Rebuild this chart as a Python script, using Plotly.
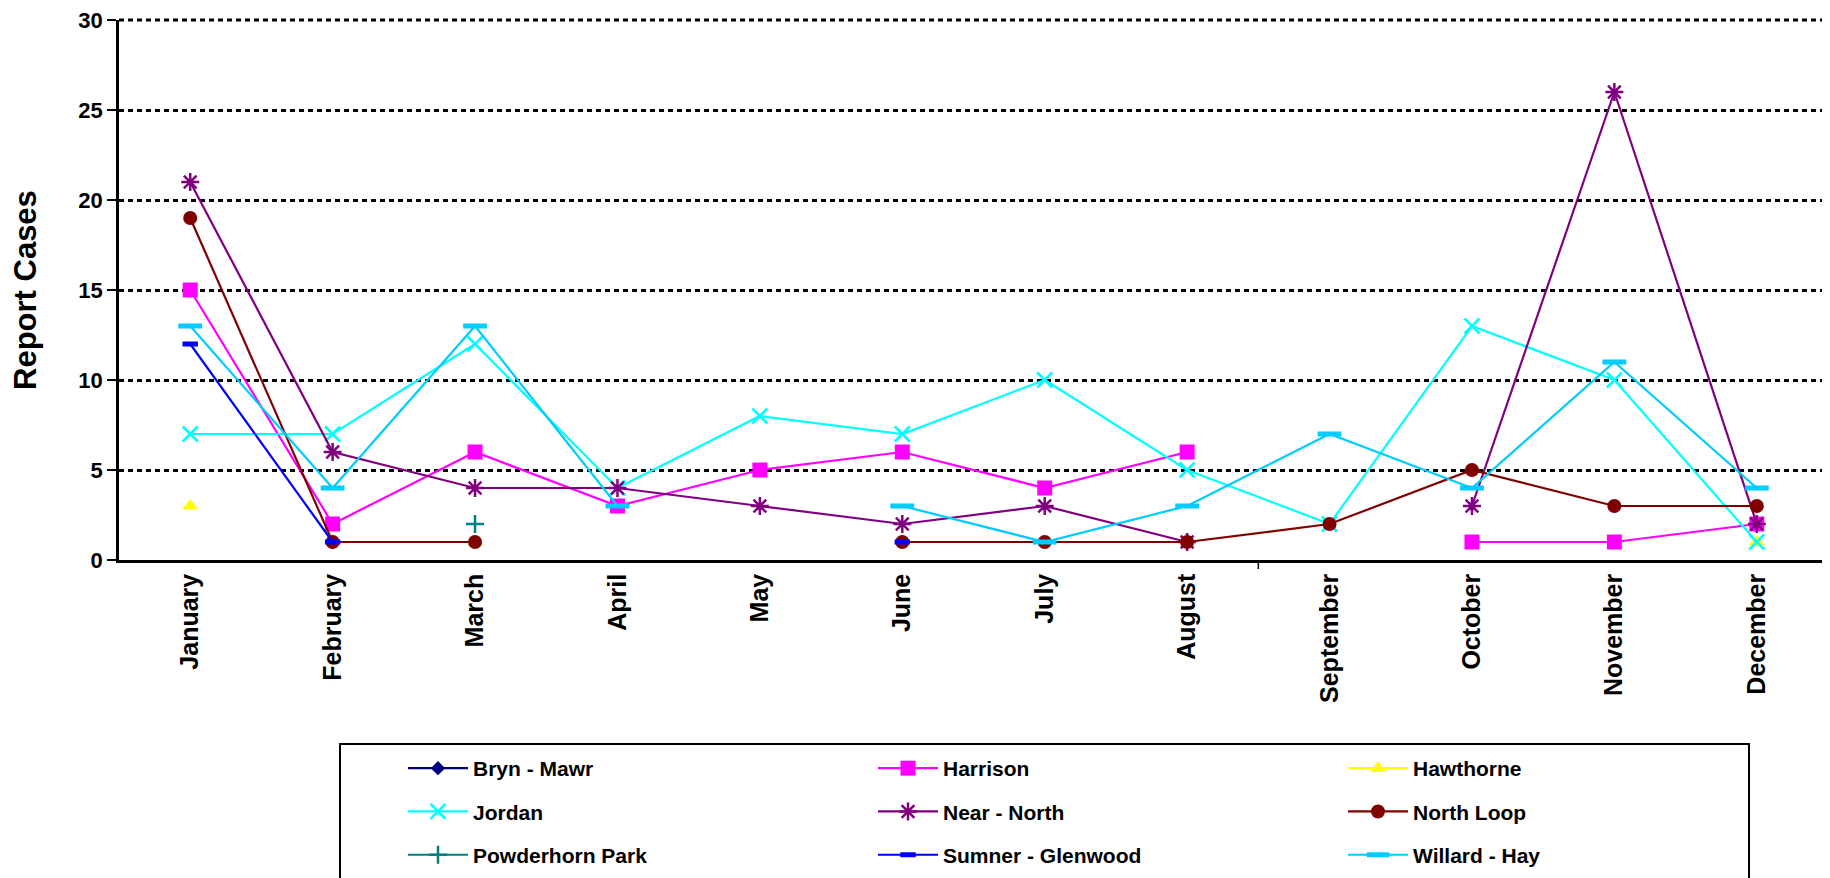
import plotly.graph_objects as go


###############################################################################
# data
###############################################################################

months = ['January', 'February', 'March', 'April', 'May', 'June',
          'July', 'August', 'September', 'October', 'November', 'December']

bryn_mawr = [None, 1, None, None, None, None, None, None, None, None, None, None]
harrison = [15, 2, 6, 3, 5, 6, 4, 6, None, 1, 1, 2]
hawthorne = [3, None, 1, None, None, None, None, None, None, None, None, 1]
jordan = [7, 7, 12, 4, 8, 7, 10, 5, 2, 13, 10, 1]
near_north = [21, 6, 4, 4, 3, 2, 3, 1, None, 3, 26, 2]
north_loop = [19, 1, 1, None, None, 1, 1, 1, 2, 5, 3, 3]
powderhorn_park = [None, None, 2, None, None, None, None, None, None, None, None, None]
sumner_glenwood = [12, 1, None, None, None, 1, None, None, None, None, None, None]
willard_hay = [13, 4, 13, 3, None, 3, 1, 3, 7, 4, 11, 4]

y_ticks = [0, 5, 10, 15, 20, 25, 30]
y_max = 30


###############################################################################
# traces
###############################################################################

FONT = "Arial, Liberation Sans, sans-serif"

# figure size (the page body adds an 8px offset) and plot area in pixels
W, H = 1822, 870
L, R, T, B = 111, 2, 12, 318
PW = W - L - R
PH = H - T - B

def px_x(x):
    return (x - L) / PW

def px_y(y):
    return (T + PH - y) / PH

# (name, values, colour, marker, legend column)
series = [
    ("Bryn - Mawr", bryn_mawr, "#000080", dict(symbol="diamond", size=11), "legend"),
    ("Harrison", harrison, "#FF00FF", dict(symbol="square", size=15), "legend2"),
    ("Hawthorne", hawthorne, "#FFFF00", dict(symbol="triangle-up", size=14), "legend3"),
    ("Jordan", jordan, "#00FFFF", dict(symbol="x-thin-open", size=15, line=dict(width=2.5, color="#00FFFF")), "legend"),
    ("Near - North", near_north, "#800080", dict(symbol="asterisk-open", size=15, line=dict(width=2.5, color="#800080")), "legend2"),
    ("North Loop", north_loop, "#800000", dict(symbol="circle", size=14), "legend3"),
    ("Powderhorn Park", powderhorn_park, "#008080", dict(symbol="cross-thin-open", size=13, line=dict(width=2.5, color="#008080")), "legend"),
    ("Sumner - Glenwood", sumner_glenwood, "#0000FF", dict(symbol="line-ew-open", size=11, line=dict(width=5, color="#0000FF")), "legend2"),
    ("Willard - Hay", willard_hay, "#00CCFF", dict(symbol="line-ew-open", size=17, line=dict(width=5, color="#00CCFF")), "legend3"),
]

fig = go.Figure()

for name, vals, col, mk, leg in series:
    fig.add_trace(go.Scatter(
        x=months, y=vals, name=name,
        mode="lines+markers", connectgaps=False,
        line=dict(color=col, width=2.2),
        marker=dict(color=col, **mk),
        legend=leg, legendgroup=name,
    ))


###############################################################################
# layout
###############################################################################

def legend_col(x_px):
    return dict(
        orientation="v",
        x=px_x(x_px), xanchor="left",
        y=px_y(740), yanchor="top",
        itemwidth=60, tracegroupgap=13,
        font=dict(family=FONT, size=21, color="black", weight="bold"),
        bgcolor="rgba(0,0,0,0)", borderwidth=0,
    )

fig.update_layout(
    width=W, height=H,
    margin=dict(l=L, r=R, t=T, b=B, pad=0),
    paper_bgcolor="white", plot_bgcolor="white",
    font=dict(family=FONT, color="black"),
    showlegend=True,
    legend=legend_col(395),
    legend2=legend_col(865),
    legend3=legend_col(1335),
    shapes=[
        # legend frame
        dict(type="rect", xref="paper", yref="paper",
             x0=px_x(332), x1=px_x(1741), y0=px_y(736), y1=px_y(900),
             line=dict(color="black", width=2), fillcolor="rgba(0,0,0,0)",
             layer="below"),
        # top gridline (plotly drops the one on the plot edge)
        dict(type="line", xref="paper", yref="paper", x0=0, x1=1, y0=1, y1=1,
             line=dict(color="black", width=2.8, dash="5px,4px"), layer="below"),
        # stray category tick between August and September
        dict(type="line", xref="x", yref="paper", x0=7.5, x1=7.5, y0=0, y1=-9 / PH,
             line=dict(color="black", width=1.5)),
    ],
    annotations=[dict(
        text="Report Cases", textangle=-90,
        xref="paper", yref="paper", x=px_x(17), y=0.5,
        xanchor="center", yanchor="middle", showarrow=False,
        font=dict(family=FONT, size=31, color="black", weight="bold"),
    )],
)

fig.update_xaxes(
    type="category", categoryorder="array", categoryarray=months,
    range=[-0.5, 11.5], automargin=False,
    tickangle=-90, ticks="", ticklabelstandoff=1,
    tickfont=dict(family=FONT, size=25, color="black", weight="bold"),
    showgrid=False, showline=True, linecolor="black", linewidth=2.5,
    zeroline=False,
)

fig.update_yaxes(
    range=[0, y_max], tickvals=y_ticks, automargin=False,
    ticks="outside", ticklen=9, tickwidth=1.5, tickcolor="black",
    ticklabelstandoff=0, ticklabeloverflow="allow",
    tickfont=dict(family=FONT, size=22, color="black", weight="bold"),
    showgrid=True, gridcolor="black", gridwidth=2.8, griddash="5px,4px",
    showline=True, linecolor="black", linewidth=2.5,
    zeroline=False,
)

fig.write_html("out.html")
